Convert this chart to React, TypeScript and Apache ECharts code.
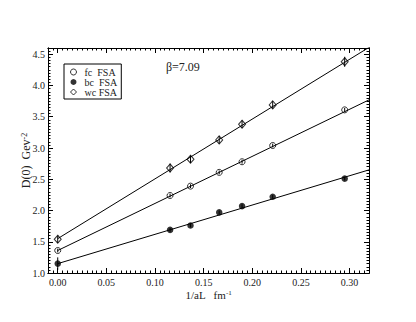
import React, { useEffect, useRef } from "react";
import * as echarts from "echarts";

// 1/aL values (fm^-1)
const invAL = [0, 0.1155, 0.1365, 0.166, 0.1895, 0.221, 0.295];
// D(0) values (GeV^-2)
const fcFSA = [1.36, 2.24, 2.39, 2.61, 2.78, 3.04, 3.61];
const bcFSA = [1.15, 1.69, 1.76, 1.97, 2.07, 2.22, 2.51];
const wcFSA = [1.54, 2.68, 2.82, 3.13, 3.38, 3.69, 4.38];
// error bars
const fcErr = [0.03, 0.03, 0.03, 0.03, 0.03, 0.03, 0.03];
const bcErr = [0.1, 0.03, 0.03, 0.03, 0.03, 0.03, 0.03];
const wcErr = [0.06, 0.07, 0.06, 0.06, 0.06, 0.06, 0.08];
// linear fits (endpoints)
const fitX = [0, 0.32];
const fitFc = [1.36, 3.77];
const fitBc = [1.15, 2.65];
const fitWc = [1.55, 4.61];
// ticks
const xMajor = [0, 0.05, 0.1, 0.15, 0.2, 0.25, 0.3];
const yMajor = [1.0, 1.5, 2.0, 2.5, 3.0, 3.5, 4.0, 4.5];
const X_MIN = -0.01, X_MAX = 0.32, Y_MIN = 1.0, Y_MAX = 4.6;

const FONT = "'Liberation Serif', 'DejaVu Serif', serif";

function steps(a: number, b: number, s: number) {
  const out: number[] = [];
  const n = Math.round((b - a) / s);
  for (let i = 0; i <= n; i++) out.push(+(a + i * s).toFixed(4));
  return out;
}

export default function App() {
  const ref = useRef<HTMLDivElement>(null);
  useEffect(() => {
    if (!ref.current) return;
    const chart = echarts.init(ref.current, undefined, { renderer: "svg" });
    const xMinor = steps(-0.005, 0.32, 0.005);
    const yMinor = steps(1.0, 4.6, 0.05);
    const pts = (ys: number[]) => invAL.map((x, i) => [x, ys[i]]);
    const errs = (ys: number[], es: number[]) => invAL.map((x, i) => [x, ys[i], es[i]]);
    const fit = (ys: number[]) => fitX.map((x, i) => [x, ys[i]]);
    const line = { lineStyle: { color: "#000", width: 1 } };
    const xAx = (pos: string, ticks: number[], len: number, labels: boolean, name?: boolean) => ({
      type: "value",
      position: pos,
      min: X_MIN,
      max: X_MAX,
      axisLine: { show: true, onZero: false, ...line },
      axisTick: { show: true, inside: true, length: len, customValues: ticks, ...line },
      axisLabel: labels
        ? { show: true, customValues: xMajor, formatter: (v: number) => v.toFixed(2), fontFamily: FONT, fontSize: 10, color: "#222", margin: 4 }
        : { show: false },
      splitLine: { show: false },
      ...(name
        ? {
            name: "1/aL   fm{sup|-1}",
            nameLocation: "middle",
            nameGap: 16,
            nameMoveOverlap: false,
            nameTextStyle: {
              fontFamily: FONT, fontSize: 11, color: "#222", verticalAlign: "top",
              rich: { sup: { fontFamily: FONT, fontSize: 7, color: "#222", verticalAlign: "top", lineHeight: 10 } },
            },
          }
        : {}),
    });
    const yAx = (pos: string, ticks: number[], len: number, labels: boolean, name?: boolean) => ({
      type: "value",
      position: pos,
      min: Y_MIN,
      max: Y_MAX,
      axisLine: { show: true, onZero: false, ...line },
      axisTick: { show: true, inside: true, length: len, customValues: ticks, ...line },
      axisLabel: labels
        ? { show: true, customValues: yMajor, formatter: (v: number) => v.toFixed(1), fontFamily: FONT, fontSize: 10, color: "#222", margin: 3 }
        : { show: false },
      splitLine: { show: false },
      ...(name
        ? {
            name: "D(0)  Gev{sup|-2}",
            nameLocation: "middle",
            nameGap: 16,
            nameMoveOverlap: false,
            nameTextStyle: {
              fontFamily: FONT, fontSize: 12, color: "#222",
              rich: { sup: { fontFamily: FONT, fontSize: 8, color: "#222", verticalAlign: "top", lineHeight: 10 } },
            },
          }
        : {}),
    });
    const errSeries = (ys: number[], es: number[]) => ({
      type: "custom",
      silent: true,
      data: errs(ys, es),
      renderItem: (_p: any, api: any) => {
        const x = api.value(0), y = api.value(1), e = api.value(2);
        const a = api.coord([x, y - e]);
        const b = api.coord([x, y + e]);
        return {
          type: "line",
          shape: { x1: a[0], y1: a[1], x2: b[0], y2: b[1] },
          style: { stroke: "#000", lineWidth: 1 },
        };
      },
    });
    const fitSeries = (ys: number[]) => ({
      type: "line",
      data: fit(ys),
      symbol: "none",
      lineStyle: { color: "#000", width: 1 },
      silent: true,
    });
    const openStyle = { color: "rgba(255,255,255,0)", borderColor: "#000", borderWidth: 1 };
    chart.setOption({
      animation: false,
      backgroundColor: "#fff",
      grid: { left: 48, right: 47, top: 48, bottom: 49 },
      xAxis: [
        xAx("bottom", xMajor, 5, true, true),
        xAx("bottom", xMinor, 2.5, false),
        xAx("top", xMajor, 5, false),
        xAx("top", xMinor, 2.5, false),
      ],
      yAxis: [
        yAx("left", yMajor, 5, true, true),
        yAx("left", yMinor, 2.5, false),
        yAx("right", yMajor, 5, false),
        yAx("right", yMinor, 2.5, false),
      ],
      legend: {
        data: [
          { name: "fc  FSA", icon: "circle", itemStyle: openStyle },
          { name: "bc  FSA", icon: "circle", itemStyle: { color: "#000", borderColor: "#000", borderWidth: 0 } },
          { name: "wc FSA", icon: "diamond", itemStyle: openStyle },
        ],
        orient: "vertical",
        left: 64,
        top: 64,
        padding: [3, 4, 2, 6],
        itemGap: 0,
        itemWidth: 6,
        itemHeight: 6,
        borderColor: "#000",
        borderWidth: 1,
        borderRadius: 0,
        textStyle: { fontFamily: FONT, fontSize: 10, color: "#222", lineHeight: 8.8, padding: [0, 0, 0, 3] },
      },
      graphic: [
        { type: "text", left: 166, top: 61, style: { text: "β=7.09", fontFamily: FONT, fontSize: 12, fill: "#222" } },
      ],
      series: [
        fitSeries(fitWc),
        fitSeries(fitFc),
        fitSeries(fitBc),
        errSeries(wcFSA, wcErr),
        errSeries(fcFSA, fcErr),
        errSeries(bcFSA, bcErr),
        { name: "fc  FSA", type: "scatter", data: pts(fcFSA), symbol: "circle", symbolSize: 6, itemStyle: openStyle },
        {
          name: "bc  FSA", type: "scatter", data: pts(bcFSA), symbol: "circle", symbolSize: 6.5,
          itemStyle: { color: "#000", borderWidth: 0 },
        },
        { name: "wc FSA", type: "scatter", data: pts(wcFSA), symbol: "diamond", symbolSize: [7, 8], itemStyle: openStyle },
      ],
    });
    return () => chart.dispose();
  }, []);
  return <div ref={ref} style={{ position: "fixed", left: 0, top: 0, width: 416, height: 322 }} />;
}
